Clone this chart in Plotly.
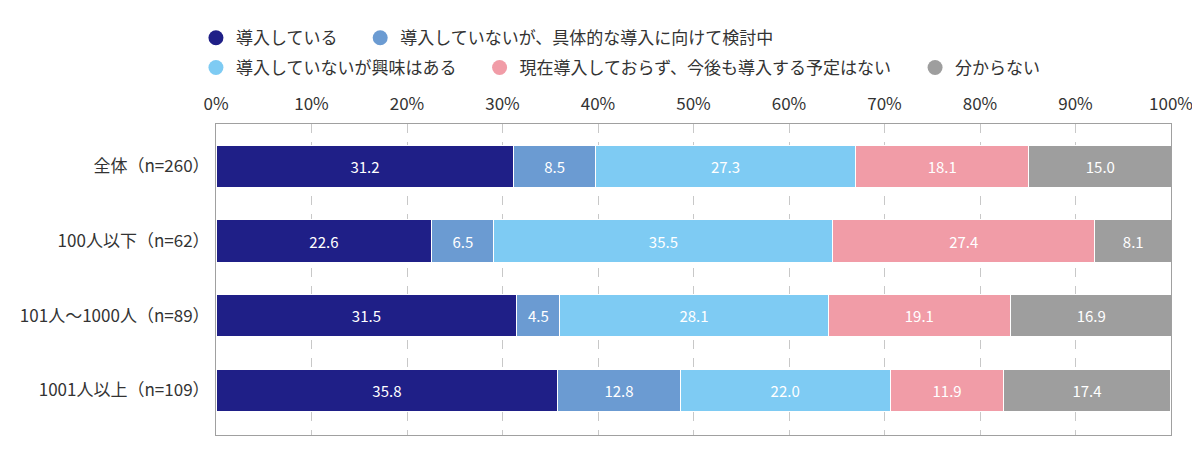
import plotly.graph_objects as go

categories = ["全体（n=260）", "100人以下（n=62）", "101人～1000人（n=89）", "1001人以上（n=109）"]
series_names = [
    "導入している",
    "導入していないが、具体的な導入に向けて検討中",
    "導入していないが興味はある",
    "現在導入しておらず、今後も導入する予定はない",
    "分からない",
]
adopted = [31.2, 22.6, 31.5, 35.8]
considering = [8.5, 6.5, 4.5, 12.8]
interested = [27.3, 35.5, 28.1, 22.0]
no_plan = [18.1, 27.4, 19.1, 11.9]
unknown = [15.0, 8.1, 16.9, 17.4]
tick_vals = [0, 10, 20, 30, 40, 50, 60, 70, 80, 90, 100]
tick_text = ["0%", "10%", "20%", "30%", "40%", "50%", "60%", "70%", "80%", "90%", "100%"]

colors = ["#1f1f87", "#6b9bd2", "#7ecbf3", "#f19ca7", "#9e9e9e"]
values = [adopted, considering, interested, no_plan, unknown]

FONT = "Noto Sans CJK JP, Noto Sans, sans-serif"

fig = go.Figure()
for name, vals, col in zip(series_names, values, colors):
    fig.add_trace(go.Bar(
        y=categories, x=vals, orientation="h", name=name,
        marker=dict(color=col, line=dict(color="white", width=1)),
        text=vals, texttemplate="%{x:.1f}", textposition="inside",
        insidetextanchor="middle", textangle=0,
        textfont=dict(color="white", size=15, family=FONT),
        showlegend=False, hoverinfo="x+name",
    ))

# legend entries with round markers, one legend per entry
legend_pos = [(-0.021, 1.276), (0.151, 1.276), (-0.021, 1.18), (0.276, 1.18), (0.732, 1.18)]
for i, (name, col) in enumerate(zip(series_names, colors)):
    lg = "legend" if i == 0 else f"legend{i + 1}"
    fig.add_trace(go.Scatter(
        x=[None], y=[None], mode="markers", name=name,
        marker=dict(color=col, size=15, symbol="circle"),
        legend=lg, showlegend=True,
    ))

layout_legends = {}
for i, (lx, ly) in enumerate(legend_pos):
    key = "legend" if i == 0 else f"legend{i + 1}"
    layout_legends[key] = dict(
        x=lx, y=ly, xanchor="left", yanchor="middle",
        orientation="h", itemwidth=30,
        font=dict(size=17, color="#333333", family=FONT),
        bgcolor="rgba(0,0,0,0)",
    )

fig.update_layout(
    barmode="stack",
    bargap=0.43,
    width=1200, height=468,
    margin=dict(l=205, r=37, t=115, b=41),
    plot_bgcolor="white", paper_bgcolor="white",
    font=dict(family=FONT, color="#333333"),
    xaxis=dict(
        side="top", range=[0, 100], tickvals=tick_vals, ticktext=tick_text,
        tickfont=dict(size=17, color="#333333"),
        showgrid=True, gridcolor="#c8c8c8", griddash="dash", gridwidth=1,
        showline=True, linecolor="#a0a0a0", linewidth=1, mirror=True,
        zeroline=False, ticks="", ticklabelstandoff=6, fixedrange=True,
    ),
    yaxis=dict(
        range=[3.6, -0.57], tickfont=dict(size=17, color="#333333"),
        showline=True, linecolor="#a0a0a0", linewidth=1, mirror=True,
        ticks="", ticklabelstandoff=2, fixedrange=True,
    ),
    **layout_legends,
)

fig.write_html("out.html")
